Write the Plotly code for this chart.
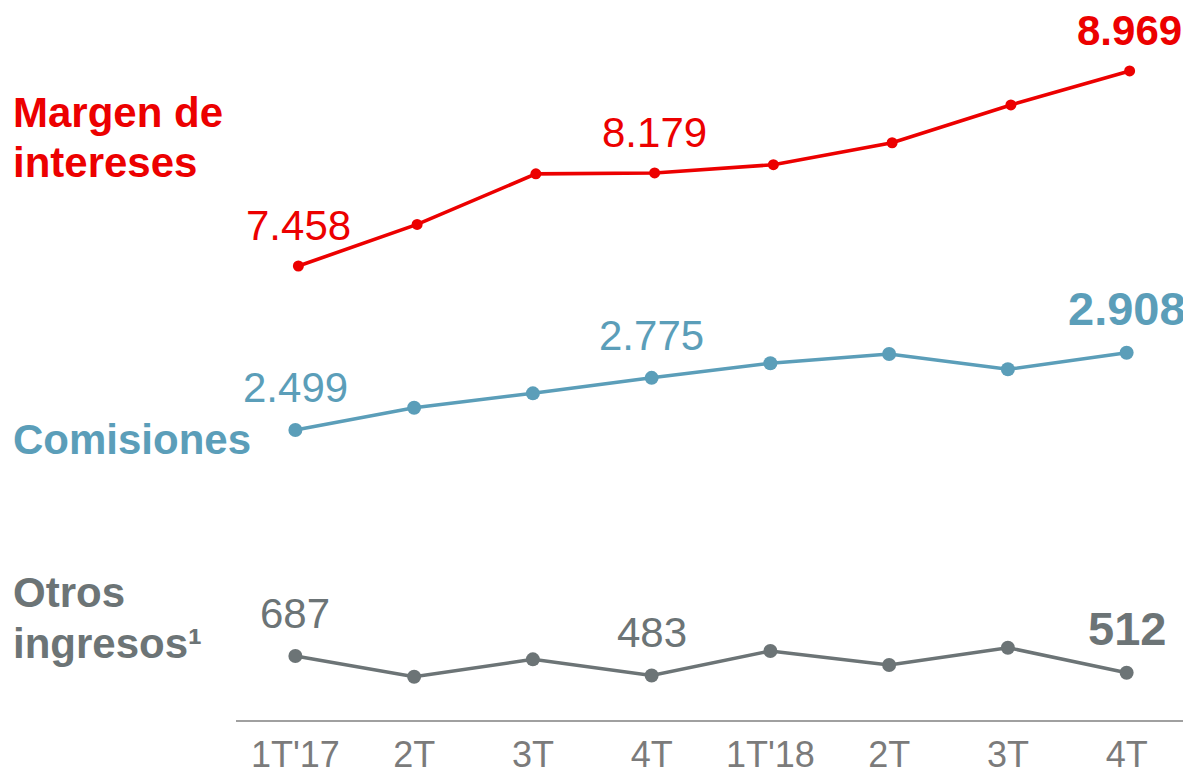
import plotly.graph_objects as go

# ---- data ----
quarters = ["1T'17", "2T", "3T", "4T", "1T'18", "2T", "3T", "4T"]
margen = [7458, 7780, 8172, 8179, 8243, 8413, 8706, 8969]
comisiones = [2499, 2617, 2693, 2775, 2852, 2901, 2820, 2908]
otros = [687, 470, 652, 483, 739, 593, 774, 512]
labeled_idx = [0, 3, 7]          # points that carry a value label
bold_idx = 7                     # last point label in bold

RED = "#EC0000"
BLUE = "#5B9EB9"
GRAY = "#6C7476"
TICK_GRAY = "#7B7B7B"
FONT = "Liberation Sans, Arial, sans-serif"

# page has an 8px body margin; figure is sized so that it fills the window
PAGE_OFF = 8
W, H = 1183, 760
ML, MR, MT, MB = 228, 5, 0, 48
PX0, PX1 = PAGE_OFF + ML, PAGE_OFF + W - MR      # plot area in page px (x)
PY0, PY1 = PAGE_OFF + MT, PAGE_OFF + H - MB      # plot area in page px (y)

def paper_x(px):
    return (px - PX0) / (PX1 - PX0)

def paper_y(py):
    return (PY1 - py) / (PY1 - PY0)

xs = list(range(len(quarters)))

def fmt(v):
    return f"{v:,}".replace(",", ".")

fig = go.Figure()

# (values, colour, x axis, y axis, marker size, line width, label gap, bold size, y domain (page px), y range)
series = [
    (margen, RED, "x", "y", 11, 3.6, 25, 42, (8, 290), [7272, 9457]),
    (comisiones, BLUE, "x2", "y2", 14, 3.5, 27.7, 47, (300, 460), [2340.3, 3186.7]),
    (otros, GRAY, "x3", "y3", 14, 3.5, 27.7, 47, (560, 720), [17.6, 1691]),
]

annotations = []
layout_axes = {}
shift = 3 / 118.75
for k, (vals, col, xa, ya, msize, lw, gap, bsize, dom, rng) in enumerate(series):
    fig.add_trace(go.Scatter(
        x=xs, y=vals, mode="lines+markers",
        line=dict(color=col, width=lw),
        marker=dict(color=col, size=msize),
        xaxis=xa, yaxis=ya, showlegend=False, hoverinfo="skip", cliponaxis=False,
    ))
    for i in labeled_idx:
        txt = fmt(vals[i])
        size = 42
        if i == bold_idx:
            txt = f"<b>{txt}</b>"
            size = bsize
        annotations.append(dict(
            x=xs[i], y=vals[i], xref=xa, yref=ya,
            text=txt, showarrow=False, xanchor="center", yanchor="middle",
            yshift=gap + 0.358 * size, font=dict(family=FONT, size=size, color=col),
        ))
    xname = "xaxis" if k == 0 else f"xaxis{k+1}"
    yname = "yaxis" if k == 0 else f"yaxis{k+1}"
    xr = [-0.5 - shift, 7.5 - shift] if k == 0 else [-0.5, 7.5]
    layout_axes[yname] = dict(
        domain=[paper_y(dom[1]), paper_y(dom[0])], range=rng, visible=False,
        anchor=xa,
    )
    if k < 2:
        layout_axes[xname] = dict(range=xr, visible=False, anchor=ya)
    else:
        layout_axes[xname] = dict(
            range=xr, anchor=ya, tickvals=xs, ticktext=quarters,
            showgrid=False, zeroline=False, showline=True, linecolor="#A0A0A0", linewidth=2,
            ticks="", tickfont=dict(family=FONT, size=36, color=TICK_GRAY), automargin=False,
            ticklabelstandoff=2,
        )

# side labels: (text, colour, baseline page-y)
side_labels = [
    ("<b>Margen de</b>", RED, 127),
    ("<b>intereses</b>", RED, 177),
    ("<b>Comisiones</b>", BLUE, 455),
    ("<b>Otros</b>", GRAY, 607),
    ("<b>ingresos¹</b>", GRAY, 658),
]
for txt, col, base in side_labels:
    annotations.append(dict(
        x=paper_x(11), y=paper_y(base - 15), xref="paper", yref="paper",
        text=txt, showarrow=False, xanchor="left", yanchor="middle", align="left",
        font=dict(family=FONT, size=42, color=col),
    ))

fig.update_layout(
    width=W, height=H,
    margin=dict(l=ML, r=MR, t=MT, b=MB, pad=0),
    paper_bgcolor="white", plot_bgcolor="white",
    annotations=annotations,
    **layout_axes,
)

fig.write_html("out.html")
